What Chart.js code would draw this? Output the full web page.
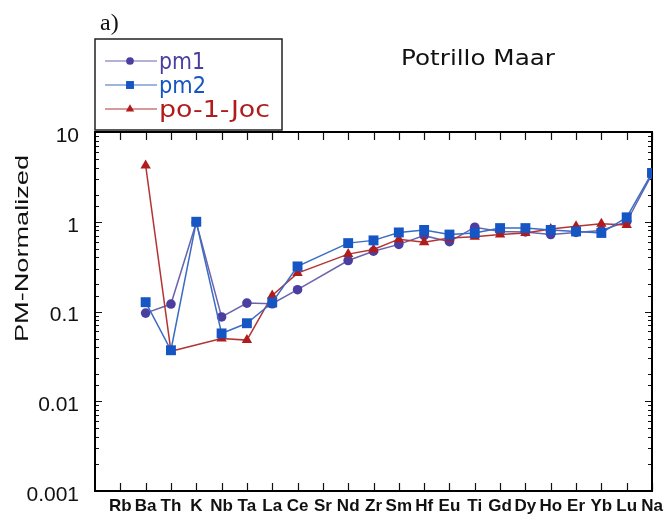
<!DOCTYPE html>
<html>
<head>
<meta charset="utf-8">
<title>Potrillo Maar</title>
<script src="https://cdn.jsdelivr.net/npm/chart.js"></script>
<style>
  html, body { margin: 0; padding: 0; background: #fff; }
  canvas { display: block; }
</style>
</head>
<body>
<canvas id="spider" width="668" height="520"></canvas>
<script>
// element order along the x axis
const elements = ['Rb', 'Ba', 'Th', 'K', 'Nb', 'Ta', 'La', 'Ce', 'Sr', 'Nd', 'Zr',
    'Sm', 'Hf', 'Eu', 'Ti', 'Gd', 'Dy', 'Ho', 'Er', 'Yb', 'Lu', 'Na'];

// primitive-mantle normalized values (null = not analysed)
const pm1 = [null, 0.096, 0.121, 0.98, 0.087, 0.124, 0.122, 0.175, null, 0.37, 0.47,
    0.56, 0.70, 0.60, 0.87, 0.78, 0.77, 0.72, 0.76, 0.80, 1.0, 3.4];
const pm2 = [null, 0.127, 0.037, 1.0, 0.057, 0.074, 0.126, 0.318, null, 0.578, 0.62,
    0.76, 0.81, 0.72, 0.75, 0.85, 0.85, 0.81, 0.78, 0.75, 1.12, 3.5];
const po1Joc = [null, 4.24, 0.036, null, 0.050, 0.048, 0.151, 0.268, null, 0.436, 0.49,
    0.64, 0.59, 0.66, 0.68, 0.72, 0.75, 0.83, 0.89, 0.95, 0.92, null];

const decadeLabels = ['0.001', '0.01', '0.1', '1', '10'];

const series = [
    { label: 'pm1', values: pm1, color: '#4a3fa0', line: '#6a64ae', style: 'circle', radius: 4.8, order: 2 },
    { label: 'pm2', values: pm2, color: '#1556c4', line: '#3a6cc4', style: 'rect', radius: 7, order: 0 },
    { label: 'po-1-Joc', values: po1Joc, color: '#b01c1c', line: '#b43434', style: 'triangle', radius: 6, order: 1 }
];

function toPoints(values) {
    return values.map((v, i) => ({ x: i, y: v }));
}

function drawMarker(ctx, style, x, y, r, color) {
    ctx.fillStyle = color;
    ctx.beginPath();
    if (style === 'circle') {
        ctx.arc(x, y, r, 0, Math.PI * 2);
    } else if (style === 'rect') {
        const s = r * Math.SQRT1_2;
        ctx.rect(x - s, y - s, 2 * s, 2 * s);
    } else {
        ctx.moveTo(x, y - r);
        ctx.lineTo(x + r * 0.87, y + r * 0.5);
        ctx.lineTo(x - r * 0.87, y + r * 0.5);
        ctx.closePath();
    }
    ctx.fill();
}

// the old plotting font is wide, so stretch text horizontally to a given width
function fillWide(ctx, text, x, y, width) {
    const w = ctx.measureText(text).width;
    ctx.save();
    ctx.translate(x, y);
    ctx.scale(width / w, 1);
    ctx.fillText(text, 0, 0);
    ctx.restore();
}

// frame with inward tick marks on all four sides, legend and captions
const framePlugin = {
    id: 'frame',
    beforeDatasetsDraw(chart) {
        const { ctx, chartArea: a, scales } = chart;
        ctx.save();
        ctx.strokeStyle = '#111';
        ctx.lineWidth = 1.2;
        scales.x.ticks.forEach(t => {
            if (t.value < 0) return;
            const px = Math.round(scales.x.getPixelForValue(t.value)) + 0.5;
            ctx.beginPath();
            ctx.moveTo(px, a.bottom); ctx.lineTo(px, a.bottom - 8);
            ctx.moveTo(px, a.top); ctx.lineTo(px, a.top + 8);
            ctx.stroke();
        });
        scales.y.ticks.forEach(t => {
            const l = Math.log10(t.value);
            const major = Math.abs(l - Math.round(l)) < 1e-6;
            const len = major ? 7 : 4;
            const py = Math.round(scales.y.getPixelForValue(t.value)) + 0.5;
            ctx.beginPath();
            ctx.moveTo(a.left, py); ctx.lineTo(a.left + len, py);
            ctx.moveTo(a.right, py); ctx.lineTo(a.right - len, py);
            ctx.stroke();
        });
        ctx.lineWidth = 2;
        ctx.strokeStyle = '#000';
        ctx.strokeRect(a.left, a.top, a.right - a.left, a.bottom - a.top);
        ctx.restore();
    },
    afterDraw(chart) {
        const { ctx, chartArea: a } = chart;
        ctx.save();

        // panel letter
        ctx.fillStyle = '#111';
        ctx.font = '24px "Liberation Serif", serif';
        ctx.textAlign = 'left';
        ctx.textBaseline = 'alphabetic';
        ctx.fillText('a)', 100, 30);

        // title
        ctx.font = '22px "DejaVu Sans", sans-serif';
        fillWide(ctx, 'Potrillo Maar', 401, 65, 154);

        // y axis title
        ctx.save();
        ctx.translate(28, 342);
        ctx.rotate(-Math.PI / 2);
        ctx.font = '18px "Liberation Sans", Arial, sans-serif';
        fillWide(ctx, 'PM-Normalized', 0, 0, 187);
        ctx.restore();

        // legend box
        const bx = a.left, by = 39, bw = 187, bh = 91;
        ctx.fillStyle = '#fff';
        ctx.fillRect(bx, by, bw, bh);
        ctx.strokeStyle = '#222';
        ctx.lineWidth = 1.5;
        ctx.strokeRect(bx, by, bw, bh);
        ctx.font = '23px "DejaVu Sans", sans-serif';
        ctx.textBaseline = 'middle';
        const widths = [46, 47, 111];
        series.forEach((s, i) => {
            const y = 61 + i * 24;
            ctx.strokeStyle = s.line;
            ctx.lineWidth = 1.2;
            ctx.beginPath();
            ctx.moveTo(105, y); ctx.lineTo(157, y);
            ctx.stroke();
            drawMarker(ctx, s.style, 130, y, s.radius * 0.8, s.color);
            ctx.fillStyle = s.color;
            fillWide(ctx, s.label, 159, y + 2, widths[i]);
        });
        ctx.restore();
    }
};

new Chart(document.getElementById('spider'), {
    type: 'line',
    data: {
        datasets: series.map(s => ({
            label: s.label,
            data: toPoints(s.values),
            borderColor: s.line,
            borderWidth: 1.5,
            backgroundColor: s.color,
            pointBackgroundColor: s.color,
            pointBorderColor: s.color,
            pointBorderWidth: 0,
            pointStyle: s.style,
            pointRadius: s.radius,
            spanGaps: true,
            tension: 0,
            order: s.order
        }))
    },
    options: {
        responsive: false,
        animation: false,
        layout: { padding: { top: 132, right: 16, left: 0, bottom: 0 } },
        plugins: { legend: { display: false }, tooltip: { enabled: false } },
        scales: {
            x: {
                type: 'linear',
                min: -1,
                max: 21,
                grid: { display: false, drawTicks: false },
                border: { display: false },
                ticks: {
                    stepSize: 1,
                    autoSkip: false,
                    maxRotation: 0,
                    padding: 5,
                    color: '#111',
                    font: { family: '"Liberation Sans Narrow", "Liberation Sans", sans-serif', size: 17, weight: 'bold' },
                    callback: v => elements[v] || ''
                },
                afterFit: s => { s.height = 29; }
            },
            y: {
                type: 'logarithmic',
                min: 0.001,
                max: 10,
                grid: { display: false, drawTicks: false },
                border: { display: false },
                ticks: {
                    autoSkip: false,
                    padding: 16,
                    labelOffset: 4,
                    color: '#111',
                    font: { family: '"Liberation Sans", Arial, sans-serif', size: 21 },
                    callback: v => {
                        const l = Math.log10(v);
                        return Math.abs(l - Math.round(l)) < 1e-6 ? decadeLabels[Math.round(l) + 3] : '';
                    }
                },
                afterFit: s => { s.width = 95; }
            }
        }
    },
    plugins: [framePlugin]
});
</script>
</body>
</html>
